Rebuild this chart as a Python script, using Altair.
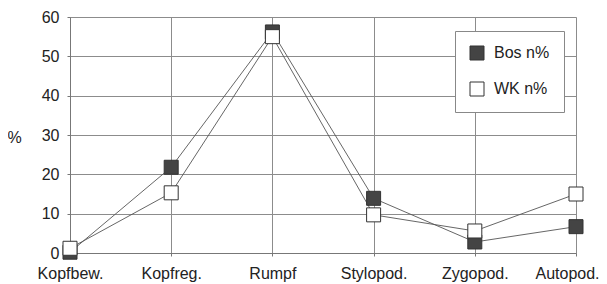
import altair as alt
import pandas as pd

categories = ["Kopfbew.", "Kopfreg.", "Rumpf", "Stylopod.", "Zygopod.", "Autopod."]
bos = [0.2, 21.8, 56.2, 13.9, 2.8, 6.7]
wk = [1.2, 15.3, 55.0, 9.7, 5.6, 15.0]
series = ["Bos n%", "WK n%"]
y_ticks = [0, 10, 20, 30, 40, 50, 60]

rows = []
for i, (s, vals) in enumerate(zip(series, [bos, wk])):
    for c, v in zip(categories, vals):
        rows.append({"cat": c, "val": v, "series": s, "ord": i})
df = pd.DataFrame(rows)

FONT = "Liberation Sans"
TXT = "#222222"
GRID = "#8c8c8c"

x_enc = alt.X(
    "cat:N",
    sort=categories,
    scale=alt.Scale(type="point", padding=0),
    axis=alt.Axis(
        title=None, labelAngle=0, grid=True, gridColor=GRID, gridWidth=1,
        domainColor="#777777", tickColor="#777777", tickSize=3,
        labelFontSize=16, labelPadding=9, labelColor=TXT, labelFont=FONT,
        labelOffset={"condition": {"test": "datum.value == 'Autopod.'", "value": -9}, "value": 0},
    ),
)
y_enc = alt.Y(
    "val:Q",
    scale=alt.Scale(domain=[0, 60], nice=False),
    axis=alt.Axis(
        values=y_ticks, title="%", titleAngle=0, titleX=-56, titleY=120,
        titleAlign="center", titleBaseline="middle", titleFontSize=16,
        titleFontWeight="normal", titleColor=TXT, titleFont=FONT,
        grid=True, gridColor=GRID, gridWidth=1,
        domainColor="#777777", tickColor="#777777", tickSize=3,
        labelFontSize=16, labelPadding=8, labelColor=TXT, labelFont=FONT,
    ),
)

lines = alt.Chart(df).mark_line(color="#555555", strokeWidth=0.9).encode(
    x=x_enc, y=y_enc, detail="series:N"
)

points = alt.Chart(df).mark_point(
    shape="square", filled=True, size=196, stroke="#333333", strokeWidth=1, opacity=1
).encode(
    x=x_enc,
    y=y_enc,
    fill=alt.Fill(
        "series:N",
        scale=alt.Scale(domain=series, range=["#444444", "#ffffff"]),
        legend=alt.Legend(
            title=None, orient="none", legendX=385, legendY=14,
            fillColor="white", strokeColor="#888888", padding=14,
            symbolSize=196, symbolType="square", symbolStrokeColor="#333333",
            symbolStrokeWidth=1, symbolOpacity=1,
            labelFontSize=16, labelOffset=9, rowPadding=18,
            labelFont=FONT, labelColor=TXT,
        ),
    ),
    order=alt.Order("ord:Q"),
)

chart = (
    alt.layer(lines, points)
    .properties(
        width=506, height=236,
        autosize=alt.AutoSizeParams(type="none"),
        padding={"left": 62, "top": 9, "right": 23, "bottom": 31},
        background="white",
    )
    .configure_view(strokeWidth=0)
    .configure(font=FONT)
)

chart.save("out.html", embed_options={"renderer": "svg", "actions": False})
